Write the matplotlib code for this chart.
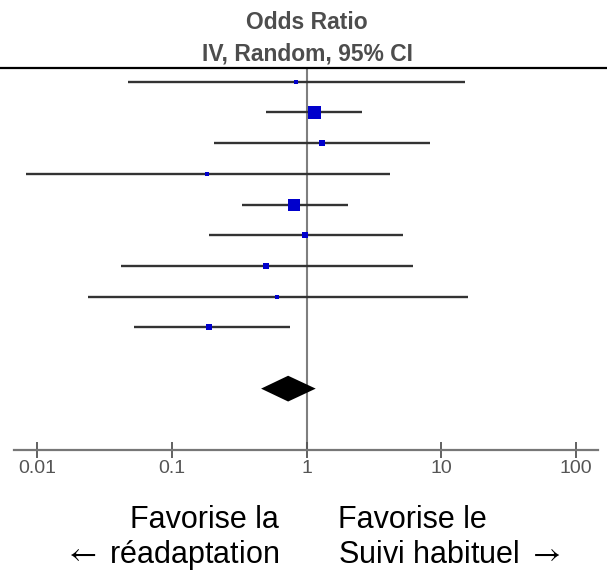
import numpy as np
import matplotlib
matplotlib.use("Agg")
import matplotlib.pyplot as plt

plt.rcParams["mathtext.fontset"] = "stix"

# Odds ratios par étude (IV, random) avec IC 95 %
or_point = [0.83, 1.13, 1.31, 0.184, 0.81, 0.97, 0.50, 0.60, 0.19]
ic_bas = [0.047, 0.50, 0.207, 0.0083, 0.33, 0.19, 0.042, 0.024, 0.052]
ic_haut = [15.1, 2.56, 8.19, 4.13, 2.02, 5.16, 6.12, 15.7, 0.75]
poids = [2.4, 25.0, 5.3, 1.8, 24.0, 3.7, 5.3, 2.4, 7.2]

# Effet global
or_total = 0.73
ic_total = [0.46, 1.17]

ticks = [0.01, 0.1, 1, 10, 100]
tick_labels = ["0.01", "0.1", "1", "10", "100"]

W, H = 607, 572
fig = plt.figure(figsize=(W / 100, H / 100), dpi=100)
ax = fig.add_axes([0, 1 - 450 / H, 1, (450 - 68) / H])
ax.set_xscale("log")
ax.set_xlim(10 ** -2.275, 10 ** 2.230)
ax.set_ylim(12, -0.45)

y = np.arange(len(or_point))

# intervalles de confiance
ax.hlines(y, ic_bas, ic_haut, color="#333333", lw=1.7, zorder=2)

# carrés proportionnels au poids
tailles = 2.6 * np.sqrt(poids) * 0.72
for yi, xi, s in zip(y, or_point, tailles):
    ax.plot(xi, yi, marker="s", ms=s, color="#0000cc", mec="#0000cc",
            mew=0, zorder=3)

# losange de l'effet global
y_tot = 10
h = 0.42
ax.fill([ic_total[0], or_total, ic_total[1], or_total],
        [y_tot, y_tot - h, y_tot, y_tot + h], color="black", lw=0, zorder=3)

# ligne de non-effet
ax.axvline(1, color="#7f7f7f", lw=1.5, zorder=1)

for s in ["left", "right"]:
    ax.spines[s].set_visible(False)
ax.spines["top"].set_color("black")
ax.spines["top"].set_linewidth(1.6)
ax.spines["bottom"].set_color("#777777")
ax.spines["bottom"].set_linewidth(1.6)
ax.spines["bottom"].set_bounds(10 ** -2.168, 10 ** 2.160)

ax.set_yticks([])
ax.set_xticks(ticks)
ax.set_xticklabels(tick_labels)
ax.xaxis.set_minor_locator(matplotlib.ticker.NullLocator())
ax.tick_params(axis="x", direction="inout", length=11, width=1.3,
               color="#555555", pad=1.5, labelsize=14, labelcolor="#555555")
for lab in ax.get_xticklabels():
    lab.set_family(["Liberation Sans", "DejaVu Sans"])

# en-tête
titre_font = ["Liberation Sans Narrow", "Liberation Sans", "DejaVu Sans"]
fig.text(307 / W, 1 - 29 / H, "Odds Ratio", ha="center", va="baseline",
         fontsize=16.5, fontweight="bold", color="#4d4d4d", family=titre_font)
fig.text(307 / W, 1 - 60 / H, "IV, Random, 95% CI", ha="center",
         va="baseline", fontsize=16.5, fontweight="bold", color="#4d4d4d",
         family=titre_font)

# légendes sous l'axe
bas_font = ["Liberation Sans", "DejaVu Sans"]
fig.text(279 / W, 1 - 528 / H, "Favorise la", ha="right", va="baseline",
         fontsize=22, color="black", family=bas_font)
fig.text(279 / W, 1 - 563 / H, r"$\leftarrow$ réadaptation", ha="right",
         va="baseline", fontsize=22, color="black", family=bas_font)
fig.text(338 / W, 1 - 528 / H, "Favorise le", ha="left", va="baseline",
         fontsize=22, color="black", family=bas_font)
fig.text(338 / W, 1 - 563 / H, r"Suivi habituel $\rightarrow$", ha="left",
         va="baseline", fontsize=22, color="black", family=bas_font)

fig.savefig("out.png", dpi=100)
